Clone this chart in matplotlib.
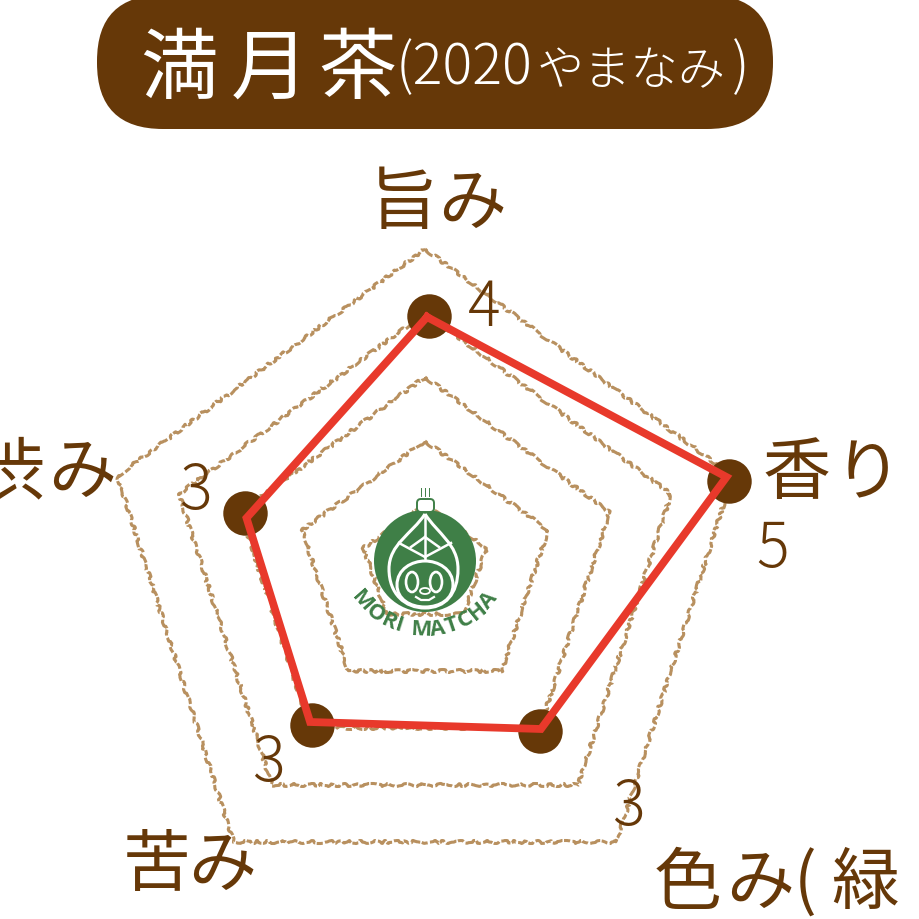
"""満月茶 (2020 やまなみ) のレーダーチャート"""

import numpy as np
import matplotlib

matplotlib.use("Agg")
import matplotlib.pyplot as plt
from matplotlib.patches import Circle, Ellipse, FancyBboxPatch, PathPatch
from matplotlib.path import Path

plt.rcParams["font.family"] = ["Noto Sans CJK JP", "DejaVu Sans"]

# データ
categories = ["旨み", "香り", "色み(緑", "苦み", "渋み"]
values = [4, 5, 3, 3, 3]
value_labels = ["4", "5", "3", "3", "3"]
levels = [1, 2, 3, 4, 5]
title_main = ["満", "月", "茶"]
title_year = "(2020"
title_name = "やまなみ"
title_close = ")"
logo_text = "MORI MATCHA"

# 見た目 (ピクセル座標)
BROWN = "#663808"
RED = "#e8392b"
TAN = "#b8905f"
GREEN = "#3f7f47"
origin_x = np.array([425, 425, 425, 425, 425])
origin_y = np.array([570, 567, 558, 558, 567])
step_x = np.array([0, 61.5, 38.3, -38.3, -61.5])
step_y = np.array([-64, -18, 57, 57, -18])
# 元画像は手描き風で、点と線が少しずれている
dot_dx = np.array([4, -3, 0, 2, 5])
dot_dy = np.array([3, 5, 3, -3, 1])
line_dx = np.array([2, -6, 1, 0, 6])
line_dy = np.array([4, 1, 1, -6, 6])
char_x = [[404, 472], [796, 868], [688, 760, 805, 865], [157, 222], [10, 82]]
char_y = [205, 475, 885, 867, 474]
value_x = [484, 773, 628, 268, 195]
value_y = [309, 550, 808, 764, 492]
logo_adv = np.array([1.25, 1.15, 0.95, 0.6, 0.55, 1.25, 1.0, 0.9, 1.0, 1.1, 1.0])


def spoke(level):
    return origin_x + step_x * level, origin_y + step_y * level


fig = plt.figure(figsize=(9.2, 9.2), dpi=100)
ax = fig.add_axes([0, 0, 1, 1])
ax.set_xlim(0, 920)
ax.set_ylim(920, 0)
ax.axis("off")

# タイトル
ax.add_patch(FancyBboxPatch((97, -4), 676, 134, boxstyle="round,pad=0,rounding_size=66",
                            fc=BROWN, ec=BROWN, lw=0))
for ch, x in zip(title_main, [179, 270, 357]):
    ax.text(x, 71, ch, color="white", fontsize=56, ha="center", va="center")
ax.text(396, 68, title_year, color="white", fontsize=40, ha="left", va="center", weight="light")
ax.text(537, 72, title_name, color="white", fontsize=34, ha="left", va="center", weight="light")
ax.text(750, 68, title_close, color="white", fontsize=40, ha="right", va="center", weight="light")

# 目盛りの五角形
for level in levels:
    xs, ys = spoke(level)
    line, = ax.plot(np.append(xs, xs[0]), np.append(ys, ys[0]), color=TAN, lw=2.2,
                    ls=(0, (3.5, 0.8, 2, 0.5)), zorder=2)
    line.set_sketch_params(scale=1.5, length=30, randomness=10)

# ロゴ
ax.add_patch(Circle((425, 562), 51, fc=GREEN, ec="none", zorder=3))
ax.add_patch(FancyBboxPatch((417, 500), 17, 13, boxstyle="round,pad=0,rounding_size=4",
                            fc="white", ec=GREEN, lw=1.4, zorder=3))
for dx in [-4, 0, 4]:
    ax.plot([425 + dx, 425 + dx], [489, 497], color=GREEN, lw=0.7, zorder=3)
leaf = Path([(425, 515), (412, 535), (389, 545), (389, 570), (389, 595), (405, 609), (425, 609),
             (445, 609), (458, 595), (458, 570), (458, 545), (438, 535), (425, 515)],
            [Path.MOVETO] + [Path.CURVE4] * 12)
ax.add_patch(PathPatch(leaf, fc="none", ec="white", lw=2.2, zorder=4))
for seg in [[(425, 518), (425, 562)], [(425, 538), (411, 548)], [(425, 538), (439, 548)],
            [(425, 558), (399, 544)], [(425, 558), (451, 544)]]:
    ax.plot(*zip(*seg), color="white", lw=1.8, zorder=4)
head = Path([(397, 586), (397, 570), (412, 562), (425, 562), (438, 562), (453, 570), (453, 586),
             (453, 600), (440, 608), (425, 608), (410, 608), (397, 600), (397, 586)],
            [Path.MOVETO] + [Path.CURVE4] * 12)
ax.add_patch(PathPatch(head, fc=GREEN, ec="white", lw=2.2, zorder=4))
for ex in [412, 436]:
    ax.add_patch(Ellipse((ex, 583), 12, 20, fc=GREEN, ec="white", lw=1.9, zorder=5))
ax.add_patch(Ellipse((425, 592), 10, 6, fc=GREEN, ec="white", lw=1.3, zorder=5))
ax.plot([416, 421, 429, 434], [598, 601, 601, 598], color="white", lw=1.6, zorder=5)

mid = (np.cumsum(logo_adv) - logo_adv / 2) / logo_adv.sum()
angles = np.radians(55 - 110 * mid)
for ch, a in zip(logo_text, angles):
    ax.text(425 - 84 * np.sin(a), 546 + 84 * np.cos(a), ch, color=GREEN, fontsize=16,
            ha="center", va="center", rotation=np.degrees(-a), rotation_mode="anchor",
            family=["Open Sans", "DejaVu Sans"], weight="bold", zorder=5)

# データ系列
vx, vy = spoke(np.array(values))
ax.plot(vx + dot_dx, vy + dot_dy, ls="none", marker="o", ms=32, color=BROWN, mec="none", zorder=6)
lx, ly = vx + line_dx, vy + line_dy
ax.plot(np.append(lx, lx[0]), np.append(ly, ly[0]), color=RED, lw=5.6,
        solid_joinstyle="miter", zorder=7)

# 軸ラベル (一文字ずつ)
for label, xs, y in zip(categories, char_x, char_y):
    for ch, x in zip(label, xs):
        ax.text(x, y, ch, color=BROWN, fontsize=49, ha="center", va="center")

# 値ラベル
for s, x, y in zip(value_labels, value_x, value_y):
    ax.text(x, y, s, color=BROWN, fontsize=44, ha="center", va="center", weight="light", zorder=8)

fig.savefig("out.png", dpi=100, facecolor="white")
